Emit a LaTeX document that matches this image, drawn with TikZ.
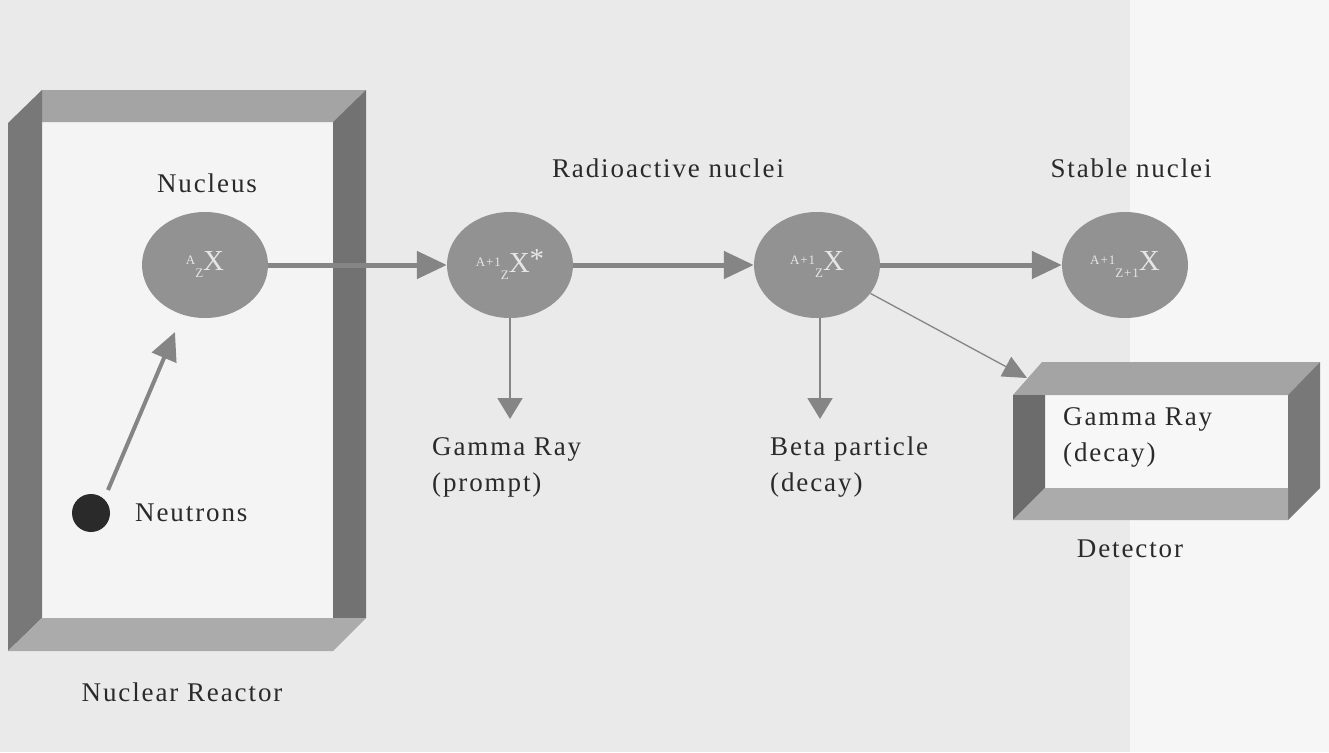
\documentclass[tikz,border=0pt]{standalone}
\usepackage{fontspec}
\setmainfont{Liberation Serif}[LetterSpace=7]
\usetikzlibrary{arrows.meta,shapes.geometric}
\definecolor{bg}{HTML}{EAEAEA}
\definecolor{paper}{HTML}{F6F6F6}
\definecolor{inner}{HTML}{F4F4F4}
\definecolor{topf}{HTML}{A4A4A4}
\definecolor{sidef}{HTML}{787878}
\definecolor{botf}{HTML}{ABABAB}
\definecolor{nucfill}{HTML}{929292}
\definecolor{arrowgray}{HTML}{858585}
\definecolor{nuctext}{HTML}{E6E6E6}
\definecolor{txt}{HTML}{2A2A2A}
\newcommand{\nucl}[3]{{\fontsize{13}{13}\selectfont\raisebox{6pt}{#1}\raisebox{-7pt}{#2}}X#3}
\begin{document}
\begin{tikzpicture}[x=1pt,y=-1pt,
  lbl/.style={text=txt,font=\fontsize{27}{36}\selectfont,inner sep=0pt},
  nucleus/.style={ellipse,fill=nucfill,minimum width=126pt,minimum height=106pt,inner sep=0pt,
    text=nuctext,font=\fontsize{29}{29}\selectfont},
  bigarrow/.style={draw=arrowgray,line width=5pt,-{Triangle[length=30pt,width=27pt]}},
  thinarrow/.style={draw=arrowgray,line width=2pt,-{Triangle[length=21pt,width=25pt]}},
  diagarrow/.style={draw=arrowgray,line width=1.3pt,-{Triangle[length=24pt,width=22pt]}}]
\useasboundingbox (0,0) rectangle (1329,752);
\fill[bg] (0,0) rectangle (1329,752);
\fill[paper] (1130,0) rectangle (1329,752);
% reactor
\fill[inner] (42,122) rectangle (333,618);
\fill[topf] (42,90) -- (366,90) -- (333,122) -- (42,122) -- cycle;
\fill[sidef] (8,123) -- (42,90) -- (42,618) -- (8,651) -- cycle;
\fill[sidef!95!black] (333,122) -- (366,90) -- (366,618) -- (333,618) -- cycle;
\fill[botf] (8,651) -- (42,618) -- (366,618) -- (333,651) -- cycle;
% detector
\fill[white!97!black] (1045,395) rectangle (1288,488);
\fill[topf] (1013,395) -- (1042,362) -- (1320,362) -- (1288,395) -- cycle;
\fill[sidef!90!black] (1013,395) -- (1045,395) -- (1045,488) -- (1013,520) -- cycle;
\fill[sidef] (1288,395) -- (1320,362) -- (1320,488) -- (1288,520) -- cycle;
\fill[botf] (1013,520) -- (1045,488) -- (1288,488) -- (1288,520) -- cycle;
% nuclei
\node[nucleus] (n1) at (205,265) {\nucl{A}{Z}{}};
\node[nucleus] (n2) at (510,265) {\nucl{A+1}{Z}{\raisebox{4pt}{*}}};
\node[nucleus] (n3) at (817,265) {\nucl{A+1}{Z}{}};
\node[nucleus] (n4) at (1125,265) {\nucl{A+1}{Z+1}{}};
% neutron
\node[circle,fill=txt,minimum size=38pt,inner sep=0pt] (dot) at (91,513) {};
\coordinate (ntail) at (108,490);
\coordinate (nhead) at (175,332);
% labels
\node[lbl] (lnuc) at (207,183) {Nucleus};
\node[lbl] (lrad) at (668,168) {Radioactive nuclei};
\node[lbl] (lstab) at (1131,168) {Stable nuclei};
\node[lbl,anchor=west] (lneu) at (135,513) {Neutrons};
\node[lbl] (lreac) at (182,692) {Nuclear Reactor};
\node[lbl,anchor=north west,align=left] (lgp) at (432,437) {Gamma Ray\\(prompt)};
\node[lbl,anchor=north west,align=left] (lbeta) at (770,437) {Beta particle\\(decay)};
\node[lbl,anchor=north west,align=left] (lgd) at (1063,407) {Gamma Ray\\(decay)};
\node[lbl] (ldet) at (1130,549) {Detector};
% arrow end points
\coordinate (v2) at (510,419);
\coordinate (v3) at (820,419);
\coordinate (dtip) at (1027,378);
% arrows
\draw[bigarrow] (n1.east) -- (n2.west);
\draw[bigarrow] (n2.east) -- (n3.west);
\draw[bigarrow] (n3.east) -- (n4.west);
\draw[thinarrow] (n2.south) -- (v2);
\draw[thinarrow] (n3.south -| v3) -- (v3);
\draw[diagarrow] (n3.-28) -- (dtip);
\draw[draw=arrowgray,line width=4pt,-{Triangle[length=28pt,width=26pt]}] (ntail) -- (nhead);
\end{tikzpicture}
\end{document}
